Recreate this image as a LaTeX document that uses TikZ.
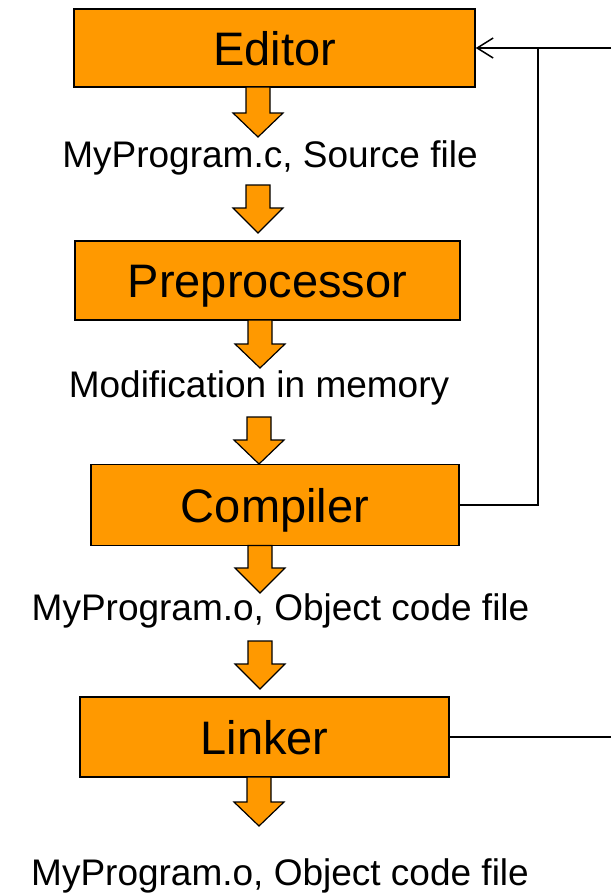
\documentclass[tikz,border=0pt]{standalone}
\usepackage{fontspec}
\setmainfont{Liberation Sans}
\usetikzlibrary{arrows.meta}
\definecolor{boxorange}{RGB}{255,153,0}
\newcommand\flowarrow[4]{% x, top, head start, tip
  \draw[blockarrow] (#1-12,#2) -- (#1+12,#2) -- (#1+12,#3) -- (#1+25,#3) -- (#1,#4) -- (#1-25,#3) -- (#1-12,#3) -- cycle;}
\begin{document}
\begin{tikzpicture}[x=1pt,y=-1pt,
  stagebox/.style={draw=black, line width=1.5pt, fill=boxorange, inner sep=0pt,
    text height=34pt, text depth=0pt, font=\fontsize{47}{56}\selectfont},
  flowlabel/.style={anchor=base, inner sep=0pt, font=\fontsize{37}{44}\selectfont},
  feedback/.style={line width=1.5pt},
  blockarrow/.style={draw=black, line width=1.2pt, fill=boxorange, line join=miter}]
\useasboundingbox (0,0) rectangle (611,895);

% stage boxes
\node[stagebox, minimum width=401pt, minimum height=78pt] (editor) at (274.5,48) {Editor};
\node[stagebox, minimum width=385pt, minimum height=79pt] (prep) at (267.5,280.5) {Preprocessor};
\node[stagebox, minimum width=368pt, minimum height=81pt] (compiler) at (275,505) {Compiler};
\node[stagebox, minimum width=369pt, minimum height=80pt] (linker) at (264.5,737) {Linker};

% labels
\node[flowlabel] (src) at (270,167) {MyProgram.c, Source file};
\node[flowlabel] (mod) at (259,397) {Modification in memory};
\node[flowlabel] (obj) at (280.5,620) {MyProgram.o, Object code file};
\node[flowlabel] (out) at (280,885) {MyProgram.o, Object code file};

% block arrows
\flowarrow{258}{87}{113}{137}
\flowarrow{258}{185}{208}{233}
\flowarrow{260}{320}{344}{368}
\flowarrow{259}{417}{440}{464}
\flowarrow{260}{545.5}{568}{593}
\flowarrow{260}{641}{664}{689}
\flowarrow{259}{777}{802}{826}

% feedback lines
\coordinate (topin) at (611,48);
\coordinate (junction) at (538,48);
\coordinate (linkout) at (611,737);
\draw[feedback, -{Straight Barb[length=16pt,width=20pt]}] (topin) -- (editor.east);
\draw[feedback] (compiler.east) -| (junction);
\draw[feedback] (linker.east) -- (linkout);
\end{tikzpicture}
\end{document}
